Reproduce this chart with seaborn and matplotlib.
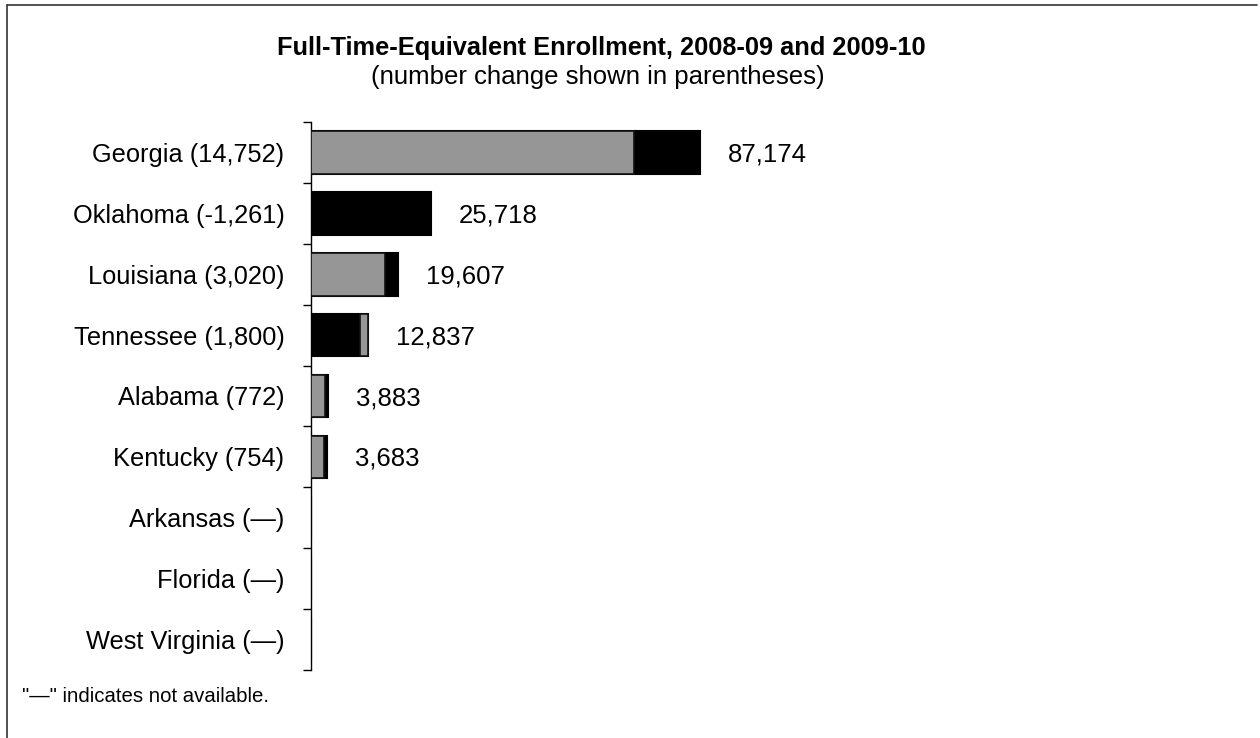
import matplotlib
matplotlib.use("Agg")
import matplotlib.pyplot as plt
import seaborn as sns
import pandas as pd
import numpy as np
from matplotlib.lines import Line2D

# ---- data ----
states = ["Georgia", "Oklahoma", "Louisiana", "Tennessee", "Alabama",
          "Kentucky", "Arkansas", "Florida", "West Virginia"]
fte_2009_10 = [87174, 25718, 19607, 12837, 3883, 3683, None, None, None]
change = [14752, -1261, 3020, 1800, 772, 754, None, None, None]
change_labels = ["14,752", "-1,261", "3,020", "1,800", "772", "754", "—", "—", "—"]
value_labels = ["87,174", "25,718", "19,607", "12,837", "3,883", "3,683", "", "", ""]

# ---- styling (which segment of each bar is gray) ----
gray_part = ["prior", None, "prior", "change", "prior", "prior", None, None, None]

sns.set_theme(style="white")
plt.rcParams['font.family'] = ['Liberation Sans', 'DejaVu Sans']
plt.rcParams['text.color'] = 'black'
plt.rcParams['ytick.color'] = 'black'

cats = [f"{s} ({c})" for s, c in zip(states, change_labels)]
prior = [None if v is None else v - c for v, c in zip(fte_2009_10, change)]
full = [0 if v is None else max(v, p) for v, p in zip(fte_2009_10, prior)]

df = pd.DataFrame({"cat": cats, "full": full})

fig = plt.figure(figsize=(12.6, 7.38), dpi=100)
W, H = 1260, 738
ax_left, ax_right = 311, 1203
ax_top, ax_bot = 122, 670
ax = fig.add_axes([ax_left / W, 1 - ax_bot / H, (ax_right - ax_left) / W, (ax_bot - ax_top) / H])

sns.barplot(data=df, x="full", y="cat", orient="h", color="black",
            saturation=1, edgecolor="black", linewidth=1.5, width=0.7, ax=ax, zorder=2)

gray = "#969696"
for i, (v, p, g) in enumerate(zip(fte_2009_10, prior, gray_part)):
    if g == "prior":
        ax.barh(i, p, left=0, height=0.7, color=gray, edgecolor="#111111", linewidth=1.2, zorder=3)
    elif g == "change":
        ax.barh(i, v - p, left=p, height=0.7, color=gray, edgecolor="#111111", linewidth=1.2, zorder=3)

for i, (f, lab) in enumerate(zip(full, value_labels)):
    if lab:
        ax.annotate(lab, xy=(f, i), xytext=(20, -1.5), textcoords="offset points",
                    ha="left", va="center", fontsize=18.5, color="black")

ax.set_xlim(0, 200000)
ax.set_ylim(len(cats) - 0.5, -0.5)
ax.set_xlabel("")
ax.set_ylabel("")
ax.set_xticks([])
for s in ["top", "right", "bottom"]:
    ax.spines[s].set_visible(False)
ax.spines["left"].set_color("black")
ax.spines["left"].set_linewidth(1.0)

# tick marks at category boundaries, labels at centers
ax.set_yticks(np.arange(-0.5, len(cats), 1.0), minor=False)
ax.set_yticklabels([""] * (len(cats) + 1))
ax.tick_params(axis="y", which="major", direction="out", length=6, width=1, color="black", left=True)
ax.set_yticks(np.arange(len(cats)), minor=True)
ax.set_yticklabels(cats, minor=True, fontsize=18.3)
ax.tick_params(axis="y", which="minor", length=0, pad=19, labelcolor="black")

fig.text(601 / W, 1 - 48 / H, "Full-Time-Equivalent Enrollment, 2008-09 and 2009-10",
         ha="center", va="center", fontsize=18.3, fontweight="bold", color="black")
fig.text(598 / W, 1 - 77 / H, "(number change shown in parentheses)",
         ha="center", va="center", fontsize=18.5, color="black")
fig.text(22 / W, 1 - 697 / H, "\"—\" indicates not available.", ha="left", va="center",
         fontsize=14.7, color="black")

fig.add_artist(Line2D([7 / W, 7 / W], [0, 1 - 5 / H], color="#333333", linewidth=1.2))
fig.add_artist(Line2D([7 / W, 1257 / W], [1 - 5 / H, 1 - 5 / H], color="#333333", linewidth=1.2))

fig.savefig("out.png", dpi=100, facecolor="white")
